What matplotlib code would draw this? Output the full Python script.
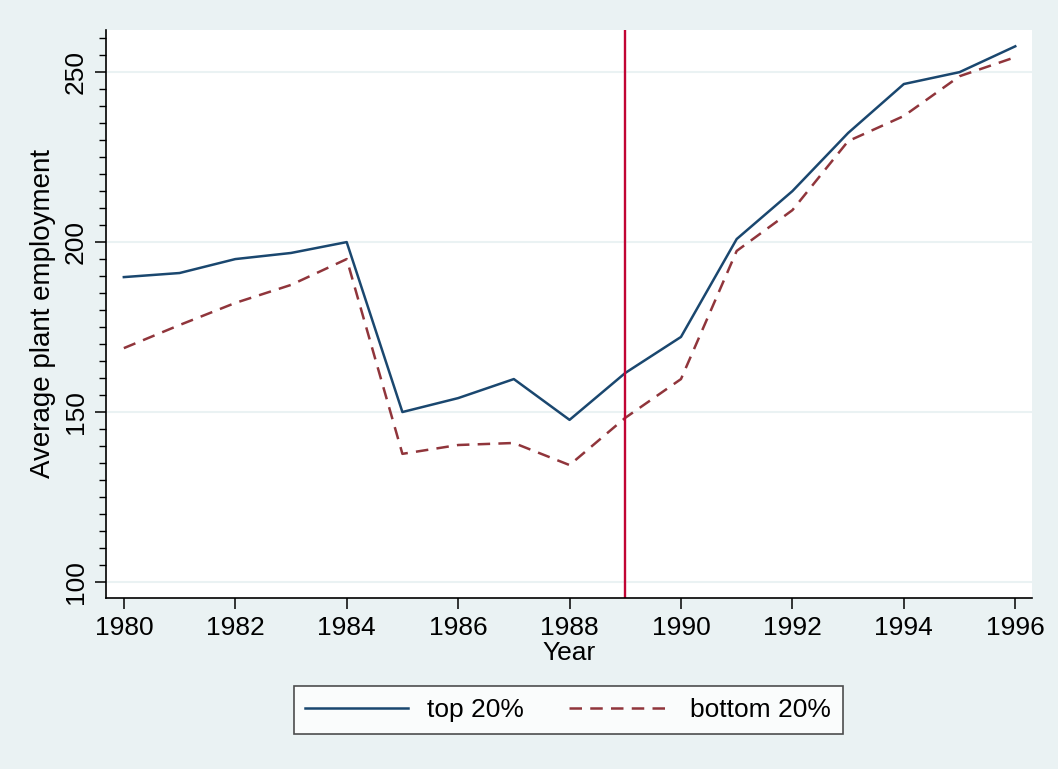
import matplotlib
matplotlib.use("Agg")
import matplotlib.pyplot as plt
from matplotlib.ticker import MultipleLocator

years = list(range(1980, 1997))
top20 = [189.6, 190.8, 194.9, 196.7, 199.9, 149.9, 154.0, 159.6, 147.6,
         161.4, 172.0, 200.8, 214.9, 232.0, 246.4, 249.9, 257.5]
bottom20 = [168.7, 175.5, 182.0, 187.3, 194.9, 137.6, 140.2, 140.8, 134.3,
            148.2, 159.6, 197.3, 209.3, 229.6, 237.0, 248.7, 254.3]
xticks = list(range(1980, 1997, 2))
yticks = [100, 150, 200, 250]
event_year = 1989

plt.rcParams['font.family'] = ['Liberation Sans', 'DejaVu Sans']

bg = '#EAF2F3'
fig = plt.figure(figsize=(10.58, 7.69), dpi=100, facecolor=bg)
ax = fig.add_axes([0.1002, 0.2224, 0.8752, 0.7386])
ax.set_facecolor('white')

for y in yticks:
    ax.axhline(y, color=bg, lw=1.5, zorder=0)

ax.plot(years, top20, color='#1A476F', lw=1.8, label='top 20%')
ax.plot(years, bottom20, color='#90353B', lw=1.8, dashes=(5, 3.3), label='bottom 20%')
ax.axvline(event_year, color='#C10534', lw=1.7)

ax.set_xlim(1979.68, 1996.3)
ax.set_ylim(95.2, 262.3)
ax.set_xticks(xticks)
ax.set_yticks(yticks)
ax.yaxis.set_minor_locator(MultipleLocator(5))
ax.set_yticklabels([str(v) for v in yticks], rotation=90, va='center')
ax.tick_params(axis='both', labelsize=19, length=8, width=1.1, color='black')
ax.tick_params(axis='y', which='minor', length=5, width=1)
ax.tick_params(axis='x', pad=5)
ax.tick_params(axis='y', pad=5)

for side in ['top', 'right']:
    ax.spines[side].set_visible(False)
for side in ['left', 'bottom']:
    ax.spines[side].set_linewidth(1.2)

ax.set_xlabel('Year', fontsize=19, labelpad=1)
ax.set_ylabel('Average plant employment', fontsize=20, labelpad=6)

leg = fig.legend(loc='center', bbox_to_anchor=(0.537, 0.0767), ncol=2, fontsize=19,
                 frameon=True, fancybox=False, handlelength=3.9, columnspacing=1.7,
                 borderpad=0.45, handletextpad=0.7, borderaxespad=0)
leg.get_frame().set_edgecolor('#222222')
leg.get_frame().set_linewidth(1.2)

fig.savefig('out.png', dpi=100, facecolor=bg)
